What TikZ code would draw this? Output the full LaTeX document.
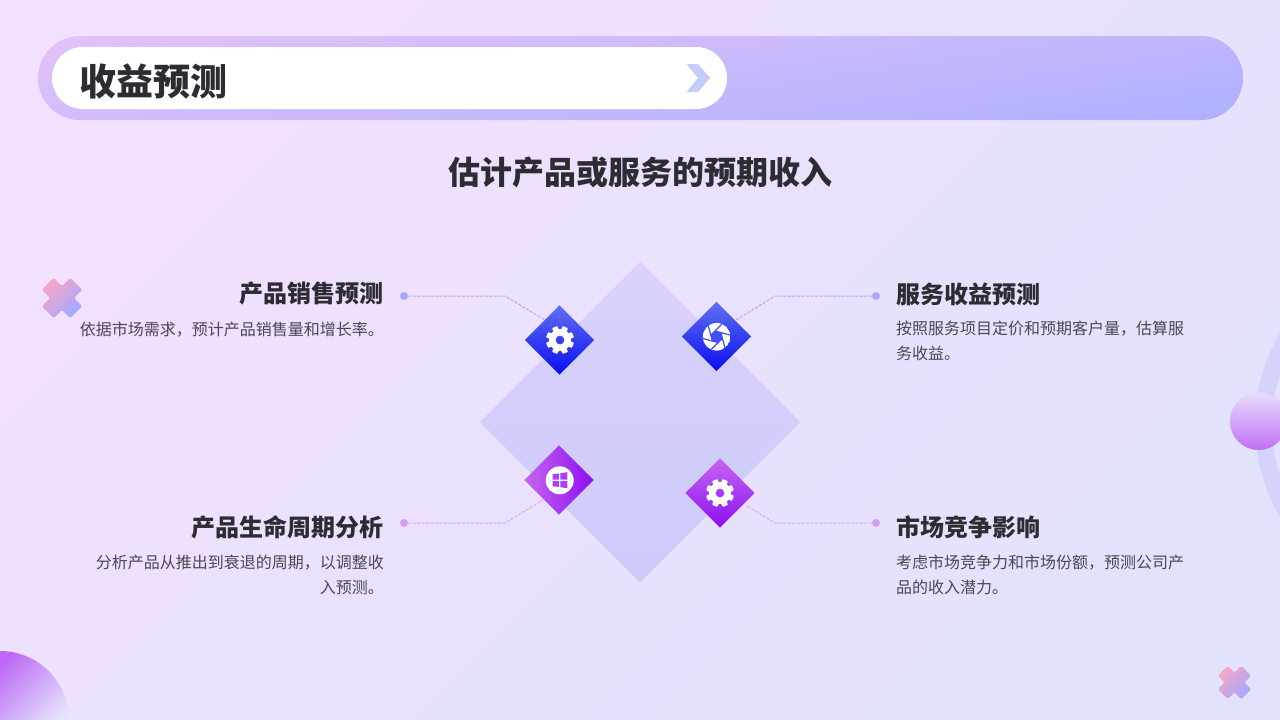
\documentclass[tikz,border=0pt]{standalone}
\usepackage{fontspec}
\usetikzlibrary{shapes.geometric,calc}
\newfontfamily\cjk{Noto Sans CJK SC}
\newcommand{\fc}{\char"FF0C\relax}
\definecolor{ink}{HTML}{2E2C33}
\definecolor{bodyink}{HTML}{4A4852}
\definecolor{linkblue}{HTML}{ADAEF2}
\definecolor{linkpurple}{HTML}{D6A9EE}
\definecolor{dotblue}{HTML}{A8A8F6}
\definecolor{dotpurple}{HTML}{D09EF2}
\definecolor{gemtop}{HTML}{5F70F0}
\definecolor{gembot}{HTML}{0A0EF0}
\definecolor{pgemtop}{HTML}{C566EE}
\definecolor{pgembot}{HTML}{8C10F2}
\definecolor{crossa}{HTML}{F6A6C6}
\definecolor{crossb}{HTML}{A4A8FF}
\definecolor{bgA}{HTML}{F2E0FF}
\definecolor{bgB}{HTML}{E2E2FD}
\definecolor{ringc}{HTML}{D4D3FB}
\definecolor{ballA}{HTML}{E8DCFB}
\definecolor{ballB}{HTML}{C070F5}
\definecolor{discA}{HTML}{BC68F5}
\definecolor{discB}{HTML}{E4E2FD}
\definecolor{barA}{HTML}{E4C2F8}
\definecolor{barB}{HTML}{D0AEFC}
\definecolor{barC}{HTML}{ADB0FF}
\definecolor{chev}{HTML}{C4CCFA}
\definecolor{midA}{HTML}{DAD0FB}
\definecolor{midB}{HTML}{CCCBFB}
\definecolor{iris}{HTML}{4050EE}
\definecolor{winc}{HTML}{A845EE}
\tikzset{
  title text/.style={font=\cjk\bfseries\fontsize{37}{44}\selectfont,text=ink,inner sep=0},
  sub text/.style={font=\cjk\bfseries\fontsize{32}{38}\selectfont,text=ink,inner sep=0},
  head text/.style={font=\cjk\bfseries\fontsize{24}{30}\selectfont,text=ink,inner sep=0},
  body text/.style={font=\cjk\fontsize{16}{25}\selectfont,text=bodyink,inner sep=0},
  bluegem/.style={diamond,aspect=1,inner sep=0,minimum width=69.5pt,minimum height=69.5pt,top color=gemtop,bottom color=gembot},
  purplegem/.style={diamond,aspect=1,inner sep=0,minimum width=69.5pt,minimum height=69.5pt,top color=pgemtop,bottom color=pgembot},
  sidegem/.style={diamond,aspect=1,inner sep=0,minimum width=69.5pt,minimum height=69.5pt,left color=pgemtop,right color=pgembot},
  bluedot/.style={circle,fill=dotblue,inner sep=0,minimum size=8pt},
  purpledot/.style={circle,fill=dotpurple,inner sep=0,minimum size=8pt},
  bluelink/.style={draw=linkblue,line width=1pt,dash pattern=on 3pt off 1.5pt},
  purplelink/.style={draw=linkpurple,line width=1pt,dash pattern=on 3pt off 1.5pt},
}
\newcommand{\gearicon}[2]{%
  \fill[white,even odd rule,shift={(#1)}]
    plot[domain=0:359,samples=180] (\x:{min(14,max(10.8,10.8+(15.5-abs(mod(\x,45)-22.5))*0.8))}) -- cycle
    (0,0) circle (#2);
}
\newcommand{\crossmark}[2]{%
  \shade[left color=crossa,right color=crossb,shading angle=45,rounded corners=1.5pt]
    ($(#1)+(135:#2)+(45:#2*0.42)$) --
    ($(#1)+(45:#2*0.42)+(135:#2*0.42)$) --
    ($(#1)+(45:#2)+(135:#2*0.42)$) --
    ($(#1)+(45:#2)+(-45:#2*0.42)$) --
    ($(#1)+(45:#2*0.42)+(-45:#2*0.42)$) --
    ($(#1)+(-45:#2)+(45:#2*0.42)$) --
    ($(#1)+(-45:#2)+(225:#2*0.42)$) --
    ($(#1)+(225:#2*0.42)+(-45:#2*0.42)$) --
    ($(#1)+(225:#2)+(-45:#2*0.42)$) --
    ($(#1)+(225:#2)+(135:#2*0.42)$) --
    ($(#1)+(225:#2*0.42)+(135:#2*0.42)$) --
    ($(#1)+(135:#2)+(225:#2*0.42)$) -- cycle;
}
\begin{document}
\begin{tikzpicture}[x=1pt,y=-1pt]
\useasboundingbox (0,0) rectangle (1280,720);
\clip (0,0) rectangle (1280,720);
% background
\shade[left color=bgA,right color=bgB,shading angle=45] (0,0) rectangle (1280,720);
% right ring and ball
\draw[draw=ringc,line width=17pt] (1437,425) circle (173.5);
\shade[top color=ballA,bottom color=ballB] (1258.6,421.3) circle (28.7);
% lower-left quarter disc
\begin{scope}
  \clip (0,720) circle (69);
  \shade[left color=discA,right color=discB,shading angle=45] (0,640) rectangle (80,720);
\end{scope}
% crosses
\crossmark{62,298}{20}
\crossmark{1234.5,682.5}{16.5}
% header bar
\begin{scope}
  \clip[rounded corners=42pt] (38,36) rectangle (1243,120);
  \shade[transform canvas={rotate around={8.5:(640,78)}},top color=barA,middle color=barB,bottom color=barC] (-160,-53) rectangle (1440,209);
\end{scope}
\fill[white,rounded corners=31pt] (52,47) rectangle (727,109);
\fill[chev] (686.5,64) -- (698,64) -- (710,78) -- (698,92) -- (686.5,92) -- (698,78) -- cycle;
\node[title text] (title) at (153.5,82) {收益预测};
\node[sub text] (subtitle) at (640,172) {估计产品或服务的预期收入};
% central diamond
\shade[top color=midA,bottom color=midB] (640,262) -- (800,422) -- (640,582.5) -- (480,422) -- cycle;
% connectors
\coordinate (k1) at (505,296); \coordinate (e1) at (545,320);
\coordinate (k2) at (775,296); \coordinate (e2) at (736,320);
\coordinate (k3) at (505,523); \coordinate (e3) at (543,500);
\coordinate (k4) at (775,523); \coordinate (e4) at (747,506);
\node[bluedot] (d1) at (404,296) {};
\node[bluedot] (d2) at (876,296) {};
\node[purpledot] (d3) at (404,523) {};
\node[purpledot] (d4) at (876,523) {};
\path[bluelink] (d1) -- (k1) -- (e1);
\path[bluelink] (d2) -- (k2) -- (e2);
\path[purplelink] (d3) -- (k3) -- (e3);
\path[purplelink] (d4) -- (k4) -- (e4);
% gems
\node[bluegem] (g1) at (559.5,340) {};
\node[bluegem] (g2) at (716.5,336.5) {};
\node[sidegem] (g3) at (559,480) {};
\node[purplegem] (g4) at (720,493) {};
% icons
\gearicon{560,340}{4.5}
\gearicon{720,493}{4.5}
\begin{scope}
  \clip (716.6,336.8) circle (13.8);
  \fill[white] (716.6,336.8) circle (13.8);
  \foreach \a in {0,60,...,300} {
    \draw[iris,line width=1.2pt] ($(716.6,336.8)+(\a+15:6)$) -- ($(716.6,336.8)+(\a+15:6)+(\a+135:20)$);
  }
  \fill[iris] ($(716.6,336.8)+(15:6)$) -- ($(716.6,336.8)+(75:6)$) -- ($(716.6,336.8)+(135:6)$) -- ($(716.6,336.8)+(195:6)$) -- ($(716.6,336.8)+(255:6)$) -- ($(716.6,336.8)+(315:6)$) -- cycle;
\end{scope}
\fill[white] (559.7,480.3) circle (14);
\fill[winc] (552.5,474.3) -- (559,473.4) -- (559,479.6) -- (552.5,479.6) -- cycle;
\fill[winc] (560.3,473.2) -- (567.3,472.2) -- (567.3,479.6) -- (560.3,479.6) -- cycle;
\fill[winc] (552.5,480.9) -- (559,480.9) -- (559,487) -- (552.5,486.2) -- cycle;
\fill[winc] (560.3,480.9) -- (567.3,480.9) -- (567.3,488.2) -- (560.3,487.2) -- cycle;
% texts
\node[head text,anchor=east] (h1) at (384,293) {产品销售预测};
\node[body text,anchor=east,align=right] (b1) at (384,329.5) {依据市场需求\fc{}预计产品销售量和增长率。};
\node[head text,anchor=west] (h2) at (896,294) {服务收益预测};
\node[body text,anchor=north west,align=left] (b2) at (896,320.5) {按照服务项目定价和预期客户量\fc{}估算服\\务收益。};
\node[head text,anchor=east] (h3) at (384,527) {产品生命周期分析};
\node[body text,anchor=north east,align=right] (b3) at (384,554.5) {分析产品从推出到衰退的周期\fc{}以调整收\\入预测。};
\node[head text,anchor=west] (h4) at (896,527) {市场竞争影响};
\node[body text,anchor=north west,align=left] (b4) at (896,554.5) {考虑市场竞争力和市场份额\fc{}预测公司产\\品的收入潜力。};
\end{tikzpicture}
\end{document}
